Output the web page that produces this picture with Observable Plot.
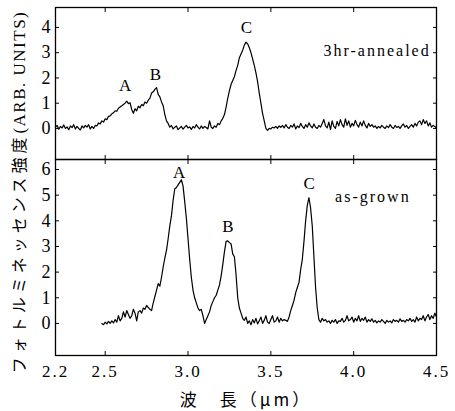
<!DOCTYPE html>
<html><head><meta charset="utf-8">
<script src="https://cdn.jsdelivr.net/npm/d3@7"></script>
<script src="https://cdn.jsdelivr.net/npm/@observablehq/plot@0.6"></script>
<style>
body{margin:0;background:#fff;}
#wrap{position:relative;width:455px;height:411px;background:#fff;}
#wrap svg{display:block;overflow:visible;}
#wrap svg text{font-family:"Liberation Serif","Times New Roman","DejaVu Serif",serif !important;}
#wrap svg g[aria-label="x-axis label"] text{font-family:"Noto Sans CJK JP","Liberation Serif","DejaVu Serif",serif !important;letter-spacing:3px;}
#ylab{position:absolute;left:18px;top:192px;transform:translate(-50%,-50%) rotate(-90deg);white-space:nowrap;font-size:16px;color:#000;}
#ylab .jp{font-family:"Noto Sans CJK JP";letter-spacing:4px;}
#ylab .en{font-family:"Liberation Serif","Times New Roman","DejaVu Serif",serif;font-size:17px;letter-spacing:1.5px;}
</style></head><body><div id="wrap"><div id="ylab"><span class="jp">フォトルミネッセンス強度</span><span class="en">(ARB. UNITS)</span></div></div>
<script>
// wavelength (μm), intensity (arb. units) — 3hr-annealed sample
const annealed = [[2.20,0.05],[2.21,0.12],[2.22,-0.03],[2.23,0.08],[2.24,0.02],[2.25,0.14],[2.26,0.0],[2.27,0.06],[2.28,-0.05],[2.29,0.1],[2.30,0.03],[2.31,0.15],[2.32,-0.02],[2.33,0.08],[2.34,0.0],[2.35,-0.06],[2.36,0.1],[2.37,0.02],[2.38,0.12],[2.39,0.05],[2.40,0.15],[2.41,-0.02],[2.42,0.08],[2.43,0.0],[2.44,0.12],[2.45,0.1],[2.46,0.22],[2.47,0.18],[2.48,0.3],[2.49,0.25],[2.50,0.38],[2.51,0.35],[2.52,0.48],[2.53,0.5],[2.54,0.58],[2.55,0.62],[2.56,0.7],[2.57,0.68],[2.58,0.8],[2.59,0.85],[2.60,0.9],[2.61,0.95],[2.62,1.0],[2.63,1.08],[2.64,0.98],[2.65,1.02],[2.66,0.75],[2.67,0.6],[2.68,0.78],[2.69,0.7],[2.70,0.88],[2.71,0.82],[2.72,0.95],[2.73,0.9],[2.74,1.05],[2.75,1.0],[2.76,1.12],[2.77,1.2],[2.78,1.4],[2.79,1.45],[2.80,1.55],[2.81,1.62],[2.82,1.35],[2.83,1.25],[2.84,1.05],[2.85,0.9],[2.86,0.55],[2.87,0.3],[2.88,0.2],[2.89,0.05],[2.90,0.12],[2.91,-0.02],[2.92,0.05],[2.93,0.1],[2.94,-0.05],[2.95,0.02],[2.96,0.08],[2.97,-0.03],[2.98,0.05],[2.99,0.12],[3.00,0.02],[3.01,0.06],[3.02,-0.04],[3.03,0.08],[3.04,0.02],[3.05,0.15],[3.06,0.05],[3.07,-0.02],[3.08,0.1],[3.09,0.0],[3.10,0.08],[3.11,0.04],[3.12,-0.02],[3.13,0.3],[3.14,0.05],[3.15,0.0],[3.16,0.1],[3.17,0.05],[3.18,0.2],[3.19,0.15],[3.20,0.3],[3.21,0.4],[3.22,0.55],[3.23,0.85],[3.24,1.2],[3.25,1.5],[3.26,1.75],[3.27,1.9],[3.28,2.05],[3.29,2.3],[3.30,2.5],[3.31,2.8],[3.32,2.95],[3.33,3.1],[3.34,3.3],[3.35,3.42],[3.36,3.35],[3.37,3.2],[3.38,3.0],[3.39,2.75],[3.40,2.5],[3.41,2.2],[3.42,1.85],[3.43,1.4],[3.44,1.0],[3.45,0.6],[3.46,0.3],[3.47,0.0],[3.48,-0.08],[3.49,0.0],[3.50,-0.02],[3.51,0.05],[3.52,0.02],[3.53,0.08],[3.54,0.0],[3.55,0.1],[3.56,0.04],[3.57,0.12],[3.58,0.02],[3.59,0.15],[3.60,0.05],[3.61,0.0],[3.62,0.12],[3.63,0.05],[3.64,0.18],[3.65,-0.02],[3.66,0.1],[3.67,0.03],[3.68,0.2],[3.69,0.08],[3.70,0.0],[3.71,0.15],[3.72,0.05],[3.73,0.22],[3.74,0.1],[3.75,0.02],[3.76,0.18],[3.77,0.05],[3.78,0.0],[3.79,0.12],[3.80,0.05],[3.81,0.2],[3.82,0.35],[3.83,0.1],[3.84,0.02],[3.85,0.25],[3.86,-0.05],[3.87,0.3],[3.88,0.08],[3.89,0.0],[3.90,0.28],[3.91,0.1],[3.92,0.35],[3.93,0.15],[3.94,0.05],[3.95,0.38],[3.96,0.12],[3.97,0.3],[3.98,0.05],[3.99,0.2],[4.00,0.1],[4.01,0.32],[4.02,0.15],[4.03,0.05],[4.04,0.25],[4.05,0.1],[4.06,0.3],[4.07,0.12],[4.08,0.02],[4.09,0.2],[4.10,0.08],[4.11,0.15],[4.12,0.05],[4.13,0.1],[4.14,0.0],[4.15,0.08],[4.16,0.02],[4.17,0.12],[4.18,0.05],[4.19,0.0],[4.20,0.1],[4.21,0.03],[4.22,0.15],[4.23,0.05],[4.24,0.0],[4.25,0.12],[4.26,0.04],[4.27,0.08],[4.28,0.0],[4.29,0.1],[4.30,0.18],[4.31,0.05],[4.32,0.12],[4.33,0.0],[4.34,0.08],[4.35,0.15],[4.36,0.05],[4.37,0.2],[4.38,0.1],[4.39,0.25],[4.40,0.3],[4.41,0.15],[4.42,0.35],[4.43,0.2],[4.44,0.3],[4.45,0.1],[4.46,0.22],[4.47,0.05],[4.48,0.12],[4.49,0.08],[4.50,0.0]];

// wavelength (μm), intensity (arb. units) — as-grown sample
const grown = [[2.48,0.0],[2.49,-0.05],[2.50,0.05],[2.51,-0.02],[2.52,0.08],[2.53,0.0],[2.54,0.1],[2.55,0.02],[2.56,0.15],[2.57,0.05],[2.58,0.3],[2.59,0.1],[2.60,0.2],[2.61,0.45],[2.62,0.25],[2.63,0.5],[2.64,0.35],[2.65,0.2],[2.66,0.3],[2.67,0.55],[2.68,0.4],[2.69,0.1],[2.70,0.45],[2.71,0.5],[2.72,0.4],[2.73,0.6],[2.74,0.55],[2.75,0.7],[2.76,0.62],[2.77,0.55],[2.78,0.5],[2.79,0.8],[2.80,1.05],[2.81,1.3],[2.82,1.55],[2.83,1.45],[2.84,1.8],[2.85,2.2],[2.86,2.55],[2.87,2.85],[2.88,3.3],[2.89,3.8],[2.90,4.2],[2.91,4.8],[2.92,5.25],[2.93,5.3],[2.94,5.4],[2.95,5.5],[2.96,5.6],[2.97,5.35],[2.98,4.75],[2.99,4.1],[3.00,3.3],[3.01,2.5],[3.02,1.8],[3.03,1.3],[3.04,1.0],[3.05,0.8],[3.06,0.6],[3.07,0.5],[3.08,0.55],[3.09,0.3],[3.10,0.0],[3.11,0.15],[3.12,0.3],[3.13,0.45],[3.14,0.7],[3.15,0.85],[3.16,1.0],[3.17,1.1],[3.18,1.3],[3.19,1.5],[3.20,1.85],[3.21,2.3],[3.22,2.8],[3.23,3.2],[3.24,3.22],[3.25,3.15],[3.26,3.1],[3.27,2.7],[3.28,2.6],[3.29,1.9],[3.30,1.0],[3.31,0.6],[3.32,0.4],[3.33,0.2],[3.34,0.12],[3.35,0.25],[3.36,0.0],[3.37,0.1],[3.38,-0.05],[3.39,0.15],[3.40,0.02],[3.41,0.2],[3.42,-0.02],[3.43,0.1],[3.44,0.25],[3.45,0.0],[3.46,0.12],[3.47,0.3],[3.48,0.05],[3.49,0.0],[3.50,0.15],[3.51,0.3],[3.52,0.05],[3.53,0.1],[3.54,0.25],[3.55,0.05],[3.56,0.2],[3.57,0.1],[3.58,0.15],[3.59,0.12],[3.60,0.08],[3.61,0.25],[3.62,0.5],[3.63,0.7],[3.64,0.9],[3.65,1.2],[3.66,1.4],[3.67,1.6],[3.68,2.1],[3.69,2.5],[3.70,3.2],[3.71,4.0],[3.72,4.6],[3.73,4.9],[3.74,4.5],[3.75,3.8],[3.76,2.6],[3.77,1.4],[3.78,0.6],[3.79,0.15],[3.80,0.05],[3.81,0.2],[3.82,0.1],[3.83,0.15],[3.84,0.05],[3.85,0.1],[3.86,0.0],[3.87,0.12],[3.88,0.05],[3.89,0.15],[3.90,0.0],[3.91,0.1],[3.92,0.08],[3.93,0.2],[3.94,0.05],[3.95,0.12],[3.96,0.3],[3.97,0.1],[3.98,0.15],[3.99,0.25],[4.00,0.05],[4.01,0.2],[4.02,0.1],[4.03,0.3],[4.04,0.08],[4.05,0.2],[4.06,0.12],[4.07,0.25],[4.08,0.05],[4.09,0.15],[4.10,0.08],[4.11,0.18],[4.12,0.05],[4.13,0.12],[4.14,0.02],[4.15,0.1],[4.16,0.05],[4.17,0.15],[4.18,0.08],[4.19,0.0],[4.20,0.12],[4.21,0.05],[4.22,0.1],[4.23,0.02],[4.24,0.15],[4.25,0.08],[4.26,0.12],[4.27,0.05],[4.28,0.18],[4.29,0.08],[4.30,0.12],[4.31,0.05],[4.32,0.15],[4.33,0.1],[4.34,0.2],[4.35,0.08],[4.36,0.15],[4.37,0.05],[4.38,0.25],[4.39,0.1],[4.40,0.2],[4.41,0.15],[4.42,0.3],[4.43,0.1],[4.44,0.25],[4.45,0.35],[4.46,0.15],[4.47,0.3],[4.48,0.2],[4.49,0.4],[4.50,0.25]];

// peak labels
const peakNames = ["A", "B", "C"];
const annealedPeakX = [2.627, 2.809, 3.359];
const annealedPeakY = [1.70, 2.14, 4.01];
const grownPeakX = [2.952, 3.247, 3.738];
const grownPeakY = [5.90, 3.78, 5.44];

// panel notes
const annealedNote = {text: "3hr-annealed", x: 4.465, y: 3.09};
const grownNote = {text: "as-grown", x: 3.888, y: 4.92};

// scales and ticks
const xDomain = [2.2, 4.5];
const xTickLabels = [2.2, 2.5, 3.0, 3.5, 4.0, 4.5];
const xInnerTicks = [2.5, 3.0, 3.5, 4.0];
const annealedYDomain = [-1.23, 4.79];
const annealedYTicks = [0, 1, 2, 3, 4];
const grownYDomain = [-1.25, 6.39];
const grownYTicks = [0, 1, 2, 3, 4, 5, 6];
const xLabel = "波　長（μm）";

const W = 455, ML = 55, MR = 19;
const serif = "'Liberation Serif', 'Times New Roman', 'DejaVu Serif', serif";
const baseStyle = {fontFamily: serif, fontSize: "17px", color: "black", background: "white", overflow: "visible", letterSpacing: "2px"};

function peakRows(xs, ys) { return peakNames.map((t, i) => ({t, x: xs[i], y: ys[i]})); }

const topPanel = Plot.plot({
  width: W, height: 159, marginTop: 7, marginBottom: 0, marginLeft: ML, marginRight: MR,
  x: {domain: xDomain}, y: {domain: annealedYDomain},
  style: baseStyle,
  marks: [
    Plot.axisY(annealedYTicks, {tickSize: -4, tickPadding: 7, label: null, tickFormat: d => String(d), fontSize: 18, fontFamily: serif}),
    Plot.axisY(annealedYTicks, {anchor: "right", tickSize: -4, tickFormat: () => "", label: null}),
    Plot.axisX(xInnerTicks, {anchor: "top", tickSize: -4, tickFormat: () => "", label: null}),
    Plot.axisX(xInnerTicks, {anchor: "bottom", tickSize: -4, tickFormat: () => "", label: null}),
    Plot.frame({stroke: "black", strokeWidth: 1.3}),
    Plot.line(annealed, {x: d => d[0], y: d => d[1], stroke: "black", strokeWidth: 1.2}),
    Plot.text(peakRows(annealedPeakX, annealedPeakY), {x: "x", y: "y", text: "t", fontSize: 17, fill: "black", fontFamily: serif}),
    Plot.text([annealedNote], {x: "x", y: "y", text: "text", textAnchor: "end", fontSize: 16, fill: "black", fontFamily: serif})
  ]
});

const bottomPanel = Plot.plot({
  width: W, height: 252, marginTop: 0, marginBottom: 56, marginLeft: ML, marginRight: MR,
  x: {domain: xDomain}, y: {domain: grownYDomain},
  style: baseStyle,
  marks: [
    Plot.axisY(grownYTicks, {tickSize: -4, tickPadding: 7, label: null, tickFormat: d => String(d), fontSize: 18, fontFamily: serif}),
    Plot.axisY(grownYTicks, {anchor: "right", tickSize: -4, tickFormat: () => "", label: null}),
    Plot.axisX(xInnerTicks, {anchor: "top", tickSize: -4, tickFormat: () => "", label: null}),
    Plot.axisX(xTickLabels, {anchor: "bottom", tickSize: -4, tickPadding: 13, tickFormat: d3.format(".1f"), fontSize: 17, fontFamily: serif,
      label: xLabel, labelAnchor: "center", labelOffset: 50, labelArrow: "none"}),
    Plot.frame({stroke: "black", strokeWidth: 1.3}),
    Plot.line(grown, {x: d => d[0], y: d => d[1], stroke: "black", strokeWidth: 1.2}),
    Plot.text(peakRows(grownPeakX, grownPeakY), {x: "x", y: "y", text: "t", fontSize: 17, fill: "black", fontFamily: serif}),
    Plot.text([grownNote], {x: "x", y: "y", text: "text", textAnchor: "start", fontSize: 16, fill: "black", fontFamily: serif})
  ]
});

const wrap = document.getElementById("wrap");
wrap.appendChild(topPanel);
wrap.appendChild(bottomPanel);
</script></body></html>
